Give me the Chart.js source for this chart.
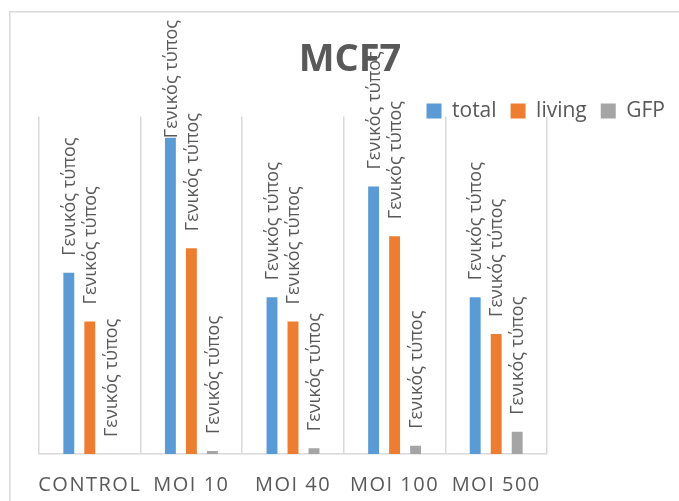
<!DOCTYPE html>
<html>
<head>
<meta charset="utf-8">
<title>MCF7</title>
<script src="https://cdn.jsdelivr.net/npm/chart.js@4.4.1/dist/chart.umd.min.js"></script>
<style>
  html, body { margin: 0; padding: 0; background: #ffffff; overflow: hidden; }
  #wrap { width: 679px; height: 501px; position: relative; }
  canvas { display: block; }
</style>
</head>
<body>
<div id="wrap"><canvas id="chart" width="679" height="501"></canvas></div>
<script>
// Cell counts per condition
const categories = ['CONTROL', 'MOI 10', 'MOI 40', 'MOI 100', 'MOI 500'];
const totalCells  = [37.6, 65.6, 32.5, 55.5, 32.5];
const livingCells = [27.5, 42.7, 27.5, 45.2, 24.9];
const gfpCells    = [0, 0.6, 1.2, 1.7, 4.6];
const seriesNames = ['total', 'living', 'GFP'];
const seriesColors = ['#5b9bd5', '#ed7d31', '#a5a5a5'];
const dataLabelText = 'Γενικός τύπος';
const chartTitle = 'MCF7';
const yMax = 70;

const TEXT = '#595959';
const LINE = '#d9d9d9';
const FONT = '"Open Sans", "Noto Sans", sans-serif';

// White background plus the outer frame of the chart object
const framePlugin = {
  id: 'frame',
  beforeDraw(chart) {
    const ctx = chart.ctx;
    ctx.save();
    ctx.fillStyle = '#ffffff';
    ctx.fillRect(0, 0, chart.width, chart.height);
    ctx.strokeStyle = LINE;
    ctx.lineWidth = 1.5;
    ctx.strokeRect(9.75, 11.75, chart.width + 40, chart.height + 40);
    ctx.restore();
  }
};

// Title and legend sit lower than the stacked layout puts them,
// overlapping the label area above the plot
const headerOffsets = {
  id: 'headerOffsets',
  afterLayout(chart) {
    const t = chart.titleBlock, l = chart.legend;
    if (t) { t.top += 11; t.bottom += 11; t.left -= 9; t.right -= 9; }
    if (l) { l.top += 15; l.bottom += 15; }
  }
};

// Wide letter spacing on the category labels
const spacedTicks = {
  id: 'spacedTicks',
  afterLayout(chart) {
    const sc = chart.scales.x;
    if (!sc || sc._spaced) return;
    const orig = sc.drawLabels;
    sc.drawLabels = function (area) {
      const ctx = this.ctx;
      ctx.save();
      ctx.letterSpacing = '1.5px';
      orig.call(this, area);
      ctx.restore();
    };
    sc._spaced = true;
  }
};

// Rotated data labels above every bar, kept inside the frame
const barLabels = {
  id: 'barLabels',
  afterDatasetsDraw(chart) {
    const ctx = chart.ctx;
    ctx.save();
    ctx.font = '18px ' + FONT;
    ctx.fillStyle = TEXT;
    ctx.textAlign = 'left';
    ctx.textBaseline = 'middle';
    const w = ctx.measureText(dataLabelText).width;
    chart.data.datasets.forEach((ds, i) => {
      chart.getDatasetMeta(i).data.forEach(bar => {
        const start = Math.max(bar.y - 17, 20 + w);
        ctx.save();
        ctx.translate(bar.x + 1, start);
        ctx.rotate(-Math.PI / 2);
        ctx.fillText(dataLabelText, 0, 0);
        ctx.restore();
      });
    });
    ctx.restore();
  }
};

new Chart(document.getElementById('chart'), {
  type: 'bar',
  data: {
    labels: categories,
    datasets: [
      { label: seriesNames[0], data: totalCells,  backgroundColor: seriesColors[0] },
      { label: seriesNames[1], data: livingCells, backgroundColor: seriesColors[1] },
      { label: seriesNames[2], data: gfpCells,    backgroundColor: seriesColors[2] }
    ]
  },
  options: {
    responsive: false,
    animation: false,
    devicePixelRatio: 1,
    events: [],
    datasets: { bar: { categoryPercentage: 0.62, barPercentage: 0.52 } },
    layout: { padding: { left: 39, right: 0, top: 0, bottom: -15 } },
    plugins: {
      title: {
        display: true,
        text: chartTitle,
        color: TEXT,
        font: { family: FONT, size: 38, weight: 'bold', lineHeight: 1.2 },
        padding: { top: 26, bottom: 0 }
      },
      legend: {
        position: 'top',
        align: 'end',
        labels: {
          boxWidth: 15,
          boxHeight: 15,
          padding: 14,
          color: TEXT,
          font: { family: FONT, size: 21 }
        }
      },
      tooltip: { enabled: false }
    },
    scales: {
      x: {
        grid: { color: LINE, lineWidth: 1.5, drawTicks: false, offset: true },
        border: { color: LINE, width: 1.5 },
        ticks: {
          color: TEXT,
          font: { family: FONT, size: 20 },
          padding: 19,
          maxRotation: 0,
          autoSkip: false
        }
      },
      y: { display: false, min: 0, max: yMax },
      side: {
        type: 'linear',
        position: 'right',
        display: true,
        grid: { display: false },
        border: { display: false },
        ticks: { display: false },
        afterFit(scale) { scale.width = 132; }
      }
    }
  },
  plugins: [framePlugin, headerOffsets, spacedTicks, barLabels]
});
</script>
</body>
</html>
